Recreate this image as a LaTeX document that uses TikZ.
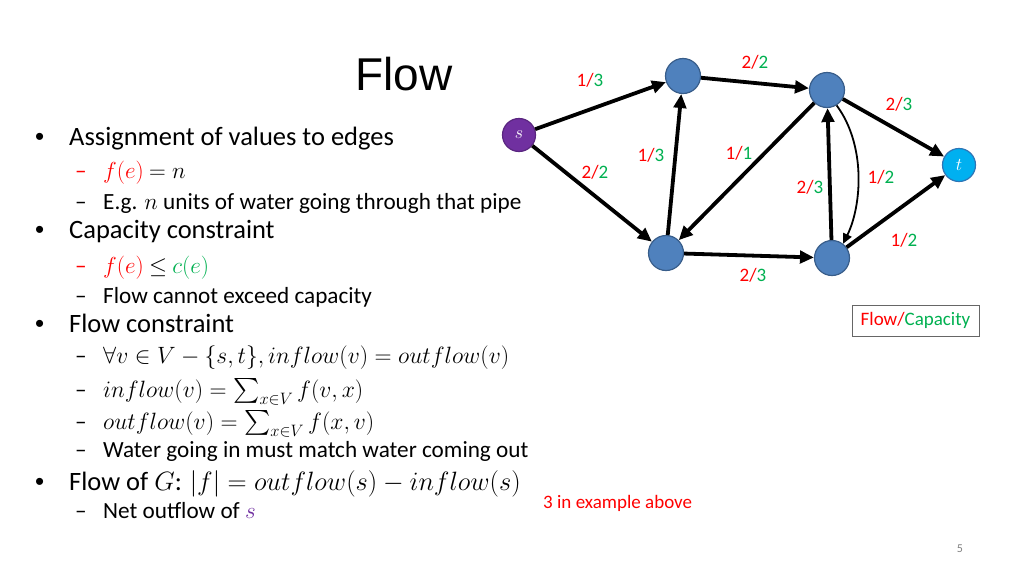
\RequirePackage{fix-cm}
\documentclass[tikz,border=0pt]{standalone}
\usepackage{amsmath}
\usepackage{fontspec}
\setmainfont{Carlito}
\newfontfamily\titlefont{Liberation Sans}
\usetikzlibrary{arrows.meta}
\definecolor{flowred}{HTML}{FF0000}
\definecolor{capgreen}{HTML}{00B050}
\definecolor{srcpurple}{HTML}{7030A0}
\definecolor{vblue}{HTML}{4F81BD}
\definecolor{vborder}{HTML}{385D8A}
\definecolor{sinkcyan}{HTML}{00B0F0}
\definecolor{sinkborder}{HTML}{2E75B6}
\newcommand{\fc}[2]{{\color{flowred}#1/}{\color{capgreen}#2}}
\newcommand{\submath}{\fontsize{23.6}{27}\selectfont}
\tikzset{
  vertex/.style={circle,minimum size=35pt,inner sep=0pt,line width=1.2pt,draw=vborder,fill=vblue},
  pipe/.style={line width=3.8pt,-{Triangle[length=14pt,width=12.5pt]}},
  thinpipe/.style={line width=1.8pt,-{Triangle[length=10pt,width=9pt]}},
  fclabel/.style={font=\fontsize{19}{22}\selectfont,inner sep=0pt},
  mainline/.style={anchor=base west,inner sep=0pt,font=\fontsize{26.5}{30}\selectfont},
  subline/.style={anchor=base west,inner sep=0pt,font=\fontsize{23.2}{27}\selectfont},
  bulletdot/.style={anchor=base west,inner sep=0pt,font=\titlefont\fontsize{26}{30}\selectfont},
}
\begin{document}
\begin{tikzpicture}[x=1pt,y=-1pt]
  \useasboundingbox (0,0) rectangle (1024,576);
  % --- title ---
  \node[inner sep=0pt,font=\titlefont\fontsize{46}{50}\selectfont] (title) at (404,74) {Flow};
  % --- bullet list ---
  \foreach \n/\y/\txt in {b1/145/{Assignment of values to edges},
                          b2/238/{Capacity constraint},
                          b3/332/{Flow constraint}} {
    \node[bulletdot] (\n dot) at (35,\y) {•};
    \node[mainline] (\n) at (69,\y) {\txt};
  }
  \node[bulletdot] (b4dot) at (35,490) {•};
  \node[mainline] (b4) at (69,490) {Flow of $G$: $|f| = outflow(s) - inflow(s)$};
  \foreach \n/\y/\txt in {s2/209/{E.g. $n$ units of water going through that pipe},
                          s4/303/{Flow cannot exceed capacity},
                          s5/363/{\submath$\forall v\in V-\{s,t\}, inflow(v) = outflow(v)$},
                          s6/397/{\submath$inflow(v) = \textstyle\sum_{x\in V} f(v,x)$},
                          s7/429/{\submath$outflow(v) = \textstyle\sum_{x\in V} f(x,v)$},
                          s8/457/{Water going in must match water coming out},
                          s9/518/{Net outflow of {\color{srcpurple}$s$}}} {
    \node[subline] (\n dash) at (75,\y) {–};
    \node[subline] (\n) at (103,\y) {\txt};
  }
  \node[subline,text=flowred] (s1dash) at (75,178) {–};
  \node[subline] (s1) at (103,178) {{\color{flowred}$f(e)$} $= n$};
  \node[subline,text=flowred] (s3dash) at (75,273) {–};
  \node[subline] (s3) at (103,273) {{\color{flowred}$f(e)$} $\le$ {\color{capgreen}$c(e)$}};
  \node[anchor=base west,inner sep=0pt,text=flowred,font=\fontsize{19}{22}\selectfont] (note) at (543,508) {3 in example above};
  % --- vertices ---
  \node[vertex,minimum size=33pt,fill=srcpurple,draw=srcpurple!80!black,text=white,
        font=\fontsize{18}{20}\selectfont] (s) at (519,135) {$s$};
  \node[vertex] (a) at (683,76) {};
  \node[vertex] (b) at (827,90) {};
  \node[vertex] (c) at (666,253) {};
  \node[vertex] (d) at (832,258) {};
  \node[vertex,minimum size=33pt,fill=sinkcyan,draw=sinkborder,text=white,
        font=\fontsize{18}{20}\selectfont] (t) at (959,165) {$t$};
  % --- edges ---
  \draw[pipe] (s) -- (a);
  \draw[pipe] (s) -- (c);
  \draw[pipe] (c) -- (a);
  \draw[pipe] (a) -- (b);
  \draw[pipe] (b) -- (c);
  \draw[pipe] (c) -- (d);
  \draw[pipe] (d) -- (b);
  \draw[pipe] (b) -- (t);
  \draw[pipe] (d) -- (t);
  \draw[thinpipe] (b.-58) .. controls (866,145) and (862,205) .. (d.52);
  % --- flow/capacity labels ---
  \node[fclabel] (lsa) at (590,80) {\fc{1}{3}};
  \node[fclabel] (lab) at (755,62) {\fc{2}{2}};
  \node[fclabel] (lsc) at (595,172) {\fc{2}{2}};
  \node[fclabel] (lca) at (651,155) {\fc{1}{3}};
  \node[fclabel] (lbc) at (739,153) {\fc{1}{1}};
  \node[fclabel] (lcd) at (753,275) {\fc{2}{3}};
  \node[fclabel] (ldb) at (810,187) {\fc{2}{3}};
  \node[fclabel] (lbd) at (881,177) {\fc{1}{2}};
  \node[fclabel] (lbt) at (899,104) {\fc{2}{3}};
  \node[fclabel] (ldt) at (904,240) {\fc{1}{2}};
  % --- legend and page number ---
  \node[draw=black!60,line width=0.8pt,minimum width=127pt,minimum height=31pt,inner sep=0pt,
        font=\fontsize{19}{22}\selectfont] (legend) at (915.5,320.5)
    {{\color{flowred}Flow/}{\color{capgreen}Capacity}};
  \node[text=black!50,font=\fontsize{12}{14}\selectfont] (page) at (960,549) {5};
\end{tikzpicture}
\end{document}
